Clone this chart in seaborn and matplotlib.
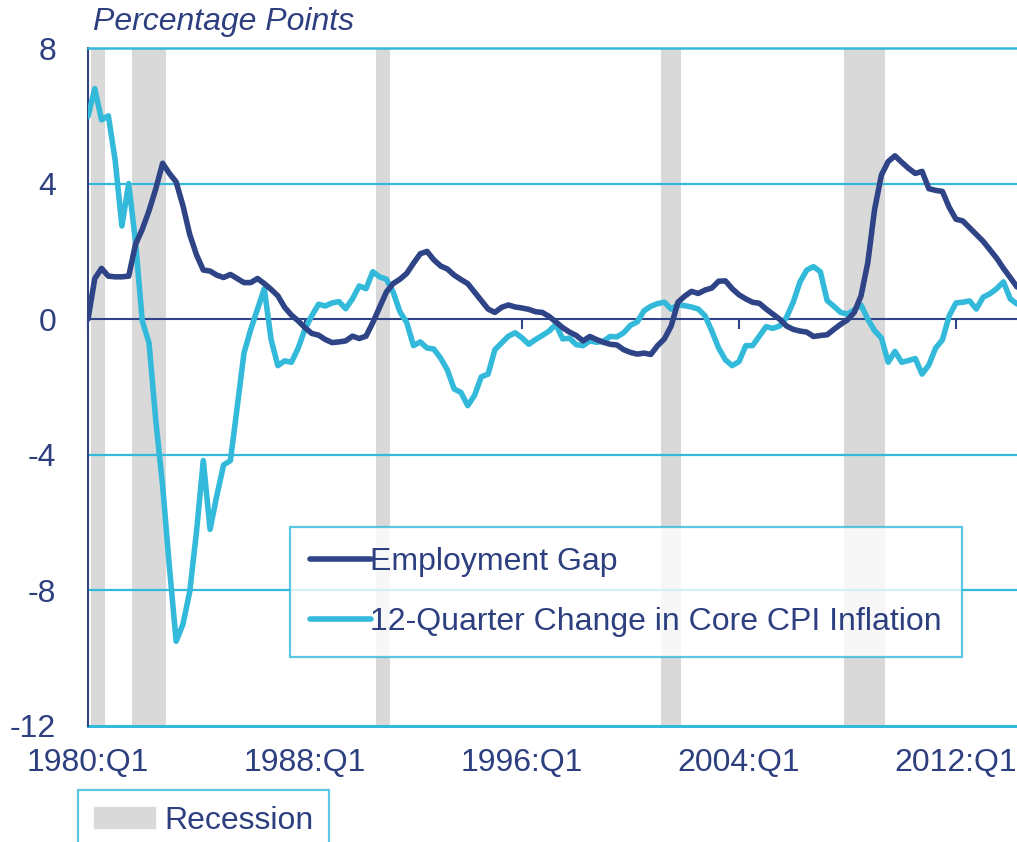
import matplotlib
matplotlib.use("Agg")
import matplotlib.pyplot as plt
import matplotlib.patches as patches
import numpy as np
import pandas as pd
import seaborn as sns

# quarterly data, 1980:Q1 .. 2014:Q2
start_year = 1980
n_quarters = 138

employment_gap = [
    0.0, 1.2, 1.5, 1.27, 1.25, 1.25, 1.27, 2.2, 2.65, 3.2,
    3.85, 4.6, 4.3, 4.05, 3.35, 2.5, 1.9, 1.45, 1.42, 1.3,
    1.23, 1.32, 1.2, 1.08, 1.08, 1.2, 1.05, 0.88, 0.69, 0.35,
    0.12, -0.05, -0.25, -0.42, -0.47, -0.6, -0.69, -0.67, -0.64, -0.5,
    -0.57, -0.5, -0.1, 0.35, 0.8, 1.05, 1.18, 1.35, 1.65, 1.93,
    2.0, 1.75, 1.57, 1.48, 1.3, 1.17, 1.05, 0.8, 0.55, 0.3,
    0.2, 0.35, 0.42, 0.36, 0.33, 0.29, 0.22, 0.2, 0.08, -0.08,
    -0.25, -0.38, -0.48, -0.64, -0.51, -0.6, -0.68, -0.74, -0.76, -0.9,
    -0.98, -1.03, -1.0, -1.04, -0.78, -0.58, -0.2, 0.5, 0.68, 0.82,
    0.76, 0.86, 0.92, 1.12, 1.13, 0.9, 0.72, 0.6, 0.5, 0.47,
    0.3, 0.15, 0.0, -0.2, -0.3, -0.35, -0.38, -0.51, -0.48, -0.46,
    -0.3, -0.15, -0.02, 0.2, 0.69, 1.67, 3.24, 4.25, 4.65, 4.82,
    4.63, 4.45, 4.3, 4.36, 3.85, 3.8, 3.77, 3.3, 2.95, 2.9,
    2.7, 2.5, 2.3, 2.05, 1.8, 1.5, 1.23, 0.95,
]

core_cpi_change = [
    5.98, 6.8, 5.88, 6.0, 4.7, 2.75, 4.0, 2.3, -0.05, -0.7,
    -3.0, -4.9, -7.3, -9.5, -9.0, -8.04, -6.27, -4.17, -6.2, -5.2,
    -4.3, -4.17, -2.6, -1.0, -0.3, 0.3, 0.9, -0.6, -1.37, -1.23,
    -1.27, -0.85, -0.29, 0.1, 0.44, 0.39, 0.48, 0.52, 0.31, 0.6,
    0.98, 0.9, 1.4, 1.25, 1.18, 0.8, 0.22, -0.1, -0.78, -0.67,
    -0.85, -0.88, -1.15, -1.5, -2.06, -2.16, -2.55, -2.25, -1.7, -1.62,
    -0.9, -0.7, -0.5, -0.4, -0.55, -0.74, -0.6, -0.48, -0.35, -0.15,
    -0.58, -0.56, -0.75, -0.78, -0.64, -0.68, -0.65, -0.51, -0.52, -0.4,
    -0.18, -0.08, 0.25, 0.38, 0.46, 0.5, 0.3, 0.42, 0.4, 0.36,
    0.3, 0.1, -0.35, -0.85, -1.2, -1.37, -1.25, -0.78, -0.78, -0.5,
    -0.22, -0.27, -0.2, 0.05, 0.5, 1.1, 1.45, 1.55, 1.4, 0.55,
    0.38, 0.2, 0.15, 0.28, 0.42, 0.0, -0.34, -0.55, -1.27, -0.95,
    -1.27, -1.22, -1.16, -1.62, -1.35, -0.85, -0.61, 0.1, 0.48, 0.5,
    0.54, 0.3, 0.65, 0.75, 0.9, 1.1, 0.6, 0.45,
]

recession_start = ["1980:Q1", "1981:Q3", "1990:Q3", "2001:Q1", "2007:Q4"]
recession_end = ["1980:Q3", "1982:Q4", "1991:Q1", "2001:Q4", "2009:Q2"]

xtick_labels = ["1980:Q1", "1988:Q1", "1996:Q1", "2004:Q1", "2012:Q1"]
yticks = [8, 4, 0, -4, -8, -12]

navy = "#2F4487"
cyan = "#33BADB"
gray = "#D9D9D9"
text_col = "#2E3F80"
fs = 23


def qindex(label):
    year, q = label.split(":Q")
    return (int(year) - start_year) * 4 + int(q) - 1


df = pd.DataFrame({
    "q": np.arange(n_quarters),
    "Employment Gap": employment_gap,
    "12-Quarter Change in Core CPI Inflation": core_cpi_change,
})

sns.set_theme(style="white")
plt.rcParams["font.family"] = ["Liberation Sans", "DejaVu Sans"]

fig = plt.figure(figsize=(10.17, 8.42), dpi=100)
ax = fig.add_axes([88 / 1017, 1 - 726 / 842, 1 - 88 / 1017, (726 - 48) / 842])

# recession shading
for s, e in zip(recession_start, recession_end):
    ax.axvspan(qindex(s) + 0.5, qindex(e) + 0.5, color=gray, lw=0, zorder=0)

# horizontal grid lines
for y in yticks:
    if y not in (0, 8, -12):
        ax.axhline(y, color=cyan, lw=1.6, zorder=1)

sns.lineplot(data=df, x="q", y="Employment Gap", ax=ax, color=navy,
             lw=4, label="Employment Gap", zorder=4)
sns.lineplot(data=df, x="q", y="12-Quarter Change in Core CPI Inflation", ax=ax,
             color=cyan, lw=4, label="12-Quarter Change in Core CPI Inflation", zorder=3)

ax.set_xlim(0, n_quarters - 1)
ax.set_ylim(-12, 8)
ax.set_xlabel("")
ax.set_ylabel("")

ax.set_yticks(yticks)
ax.set_yticklabels([str(v) for v in yticks])
ax.tick_params(axis="y", length=0, pad=23, labelsize=fs, labelcolor=text_col)

# x axis crossing at zero with small ticks
tick_pos = [qindex(t) for t in xtick_labels]
ax.spines["bottom"].set_position(("data", 0))
ax.spines["bottom"].set_color(navy)
ax.spines["bottom"].set_linewidth(1.5)
ax.spines["bottom"].set_zorder(2)
ax.set_xticks(tick_pos)
ax.tick_params(axis="x", direction="out", length=7, width=1.5, color=navy,
               labelbottom=False, bottom=True)

ax.spines["left"].set_color(navy)
ax.spines["left"].set_linewidth(1.5)
ax.spines["top"].set_color(cyan)
ax.spines["top"].set_linewidth(1.8)
ax.spines["right"].set_visible(False)

sec = ax.secondary_xaxis("bottom")
sec.set_xticks(tick_pos)
sec.set_xticklabels(xtick_labels)
sec.tick_params(length=0, pad=16, labelsize=fs, labelcolor=text_col)
sec.spines["bottom"].set_color(cyan)
sec.spines["bottom"].set_linewidth(2.2)

leg = ax.legend(loc="upper left", bbox_to_anchor=((290 - 88) / 929, 1 - (527 - 48) / 678),
                fontsize=fs, frameon=True, fancybox=False, handlelength=1.9,
                handletextpad=0.0, labelspacing=0.95, borderpad=0.62, borderaxespad=0)
leg.get_frame().set_edgecolor(cyan)
leg.get_frame().set_linewidth(1.6)
for t in leg.get_texts():
    t.set_color(text_col)

rec_leg = fig.legend(handles=[patches.Patch(color=gray, label="Recession")],
                     loc="upper left", bbox_to_anchor=(78 / 1017, 1 - 790 / 842),
                     fontsize=fs, frameon=True, fancybox=False, handlelength=1.9,
                     handleheight=0.65, handletextpad=0.3, borderpad=0.5, borderaxespad=0)
rec_leg.get_frame().set_edgecolor(cyan)
rec_leg.get_frame().set_linewidth(1.6)
for t in rec_leg.get_texts():
    t.set_color(text_col)

fig.text(93 / 1017, 1 - 22 / 842, "Percentage Points", fontsize=fs, style="italic",
         color=text_col, ha="left", va="center")

fig.savefig("out.png", dpi=100)
